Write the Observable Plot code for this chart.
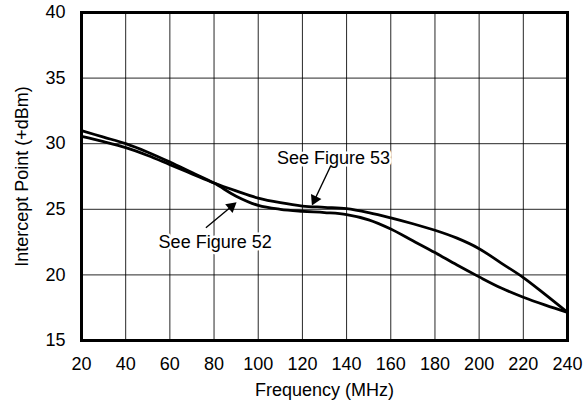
<!DOCTYPE html>
<html>
<head>
<meta charset="utf-8">
<script src="https://cdn.jsdelivr.net/npm/d3@7"></script>
<script src="https://cdn.jsdelivr.net/npm/@observablehq/plot@0.6"></script>
<style>
  html, body { margin: 0; padding: 0; background: #fff; }
  #chart svg { display: block; }
</style>
</head>
<body>
<div id="chart"></div>
<script>
// Frequency (MHz)
const freq = [20, 30, 40, 50, 60, 70, 80, 90, 100, 110, 120, 130, 140, 150, 160, 170, 180, 190, 200, 210, 220, 230, 240];
// Intercept point (+dBm), curve pointed to by "See Figure 52"
const fig52 = [31.0, 30.5, 30.0, 29.35, 28.6, 27.8, 27.0, 26.0, 25.3, 25.0, 24.85, 24.75, 24.6, 24.2, 23.5, 22.6, 21.7, 20.75, 19.85, 19.0, 18.3, 17.7, 17.15];
// Intercept point (+dBm), curve pointed to by "See Figure 53"
const fig53 = [30.55, 30.15, 29.7, 29.1, 28.4, 27.7, 27.0, 26.4, 25.85, 25.5, 25.25, 25.15, 25.05, 24.75, 24.35, 23.9, 23.4, 22.8, 22.0, 20.9, 19.8, 18.5, 17.15];

const xTicks = [20, 40, 60, 80, 100, 120, 140, 160, 180, 200, 220, 240];
const yTicks = [15, 20, 25, 30, 35, 40];

// annotation labels and arrows (data coordinates)
const labelText = ["See Figure 53", "See Figure 52"];
const labelX = [134.1, 80.5];
const labelY = [28.93, 22.47];
const arrowFrom = [[132.9, 28.34], [76.3, 23.6]];
const arrowTo = [[124.3, 25.29], [90.2, 25.54]];

const W = 585, H = 406;
const mL = 81, mR = 18, mT = 12, mB = 66;

const rows = [];
freq.forEach((f, i) => {
  rows.push({f, v: fig52[i], s: "52"});
  rows.push({f, v: fig53[i], s: "53"});
});
const labels = labelText.map((t, i) => ({text: t, x: labelX[i], y: labelY[i]}));

// compute arrow geometry in screen space via the same scales
const sx = Plot.scale({x: {domain: [20, 240], range: [mL, W - mR]}});
const sy = Plot.scale({y: {domain: [15, 40], range: [H - mB, mT]}});
const headH = 10; // px
const heads = [], shafts = [];
arrowFrom.forEach((a, i) => {
  const b = arrowTo[i];
  const px1 = sx.apply(a[0]), py1 = sy.apply(a[1]);
  const px2 = sx.apply(b[0]), py2 = sy.apply(b[1]);
  const dx = px2 - px1, dy = py2 - py1, len = Math.hypot(dx, dy);
  const ux = dx / len, uy = dy / len;
  const cx = px2 - ux * headH * 2 / 3, cy = py2 - uy * headH * 2 / 3;
  const angle = Math.atan2(dx, -dy) * 180 / Math.PI;
  heads.push({x: sx.invert(cx), y: sy.invert(cy), rotate: angle});
  shafts.push({x1: a[0], y1: a[1], x2: sx.invert(cx), y2: sy.invert(cy)});
});
const side = headH / 0.866;
const headR = Math.sqrt(side * side * Math.sqrt(3) / 4 / Math.PI);

const font = "Liberation Sans, Arial, Helvetica, sans-serif";

const chart = Plot.plot({
  width: W,
  height: H,
  marginLeft: mL,
  marginRight: mR,
  marginTop: mT,
  marginBottom: mB,
  style: {fontFamily: font, fontSize: "18px", color: "#000", background: "#fff"},
  x: {domain: [20, 240], ticks: xTicks, tickSize: 0, tickPadding: 17, label: "Frequency (MHz)", labelAnchor: "center", labelArrow: "none", labelOffset: 55},
  y: {domain: [15, 40], ticks: yTicks, tickSize: 0, tickPadding: 16, label: "Intercept Point (+dBm)", labelAnchor: "center", labelArrow: "none", labelOffset: 66},
  marks: [
    Plot.gridX(xTicks, {stroke: "#000", strokeOpacity: 0.85, strokeWidth: 1}),
    Plot.gridY(yTicks, {stroke: "#000", strokeOpacity: 0.85, strokeWidth: 1}),
    Plot.line(rows, {x: "f", y: "v", z: "s", stroke: "#000", strokeWidth: 2.8, curve: "catmull-rom"}),
    Plot.text(labels, {x: "x", y: "y", text: "text", fontSize: 18, fill: "#000", stroke: "#fff", strokeWidth: 5, paintOrder: "stroke"}),
    Plot.link(shafts, {x1: "x1", y1: "y1", x2: "x2", y2: "y2", stroke: "#000", strokeWidth: 1.4}),
    Plot.dot(heads, {x: "x", y: "y", rotate: "rotate", symbol: "triangle", r: headR, fill: "#000", stroke: "none"}),
    Plot.frame({stroke: "#000", strokeWidth: 3})
  ]
});
document.getElementById("chart").appendChild(chart);
</script>
</body>
</html>
